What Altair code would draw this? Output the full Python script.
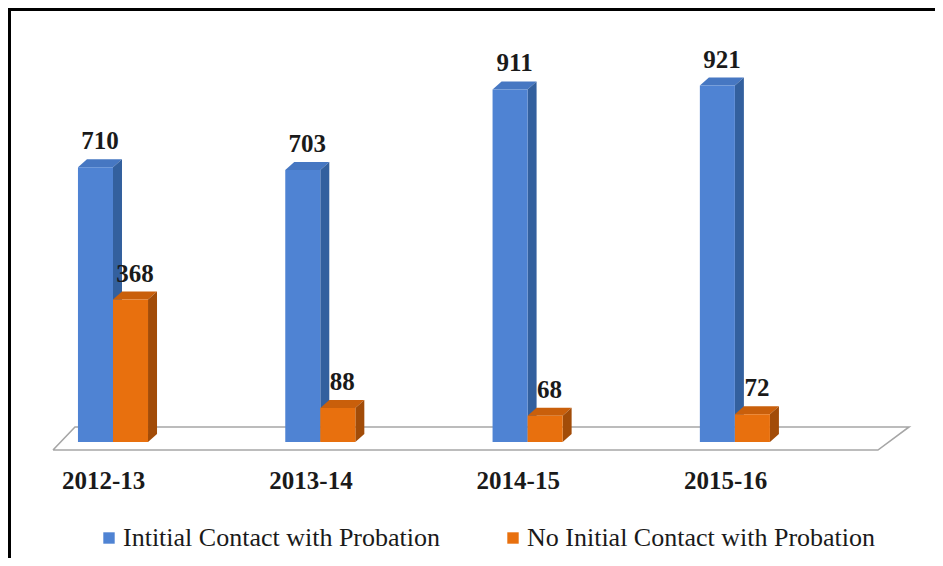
import altair as alt
import pandas as pd

# ---- data ----
years = ["2012-13", "2013-14", "2014-15", "2015-16"]
contact = [710, 703, 911, 921]
no_contact = [368, 88, 68, 72]
series_names = ["Intitial Contact with Probation", "No Initial Contact with Probation"]

# ---- styling / geometry parameters ----
FONT = "Liberation Serif"
TXT = "#1a1a1a"
COLORS = {
    series_names[0]: {"front": "#4F83D3", "side": "#33609E", "top": "#4677C2"},
    series_names[1]: {"front": "#E8700E", "side": "#A24C08", "top": "#C95F0B"},
}
W = 0.169      # bar width (category units)
DX = 0.0434    # 3-D depth, horizontal (category units)
DY = 20.7      # 3-D depth, vertical (value units)
PW, PH = 927, 550

xs = alt.Scale(domain=[-0.5065, 3.9653], nice=False, zero=False)
ys = alt.Scale(domain=[-299.7, 1121.4], nice=False, zero=False)

bars, sides, tops = [], [], []
for i, yr in enumerate(years):
    for s, (name, vals) in enumerate(zip(series_names, [contact, no_contact])):
        v = vals[i]
        x0 = i - W + s * W
        x1 = x0 + W
        key = f"{yr}|{s}"
        bars.append(dict(year=yr, series=name, value=v, x0=x0, x1=x1,
                         xm=(x0 + x1) / 2 + DX / 2, zero=0))
        for k in (0, 1):
            sides.append(dict(key=key, series=name, x=x1 + k * DX,
                              ytop=v + k * DY, ybot=k * DY))
            tops.append(dict(key=key, series=name, yy=v + k * DY,
                             xa=x0 + k * DX, xb=x1 + k * DX))

bars_df = pd.DataFrame(bars)
sides_df = pd.DataFrame(sides)
tops_df = pd.DataFrame(tops)

# floor (3-D base plane) outline
FL, FR, FDX, FFRONT, FBACK = -0.2894, 3.690, 0.150, -20.7, 38.8
floor_df = pd.DataFrame(dict(
    ord=[0, 1, 2, 3, 4],
    fx=[FL, FR, FR + FDX, FL + 0.106, FL],
    fy=[FFRONT, FFRONT, FBACK, FBACK, FFRONT],
))

cat_df = pd.DataFrame(dict(year=years, xc=[i - 0.045 for i in range(len(years))],
                           ylab=[-121] * len(years)))

floor = alt.Chart(floor_df).mark_line(color="#A6A6A6", strokeWidth=1.6).encode(
    x=alt.X("fx:Q", scale=xs, axis=None),
    y=alt.Y("fy:Q", scale=ys, axis=None),
    order="ord:Q",
)

color_enc = alt.Color(
    "series:N",
    scale=alt.Scale(domain=series_names,
                    range=[COLORS[n]["front"] for n in series_names]),
    legend=alt.Legend(
        title=None, orient="none", legendX=88, legendY=517, direction="horizontal",
        symbolType="square", symbolSize=130, symbolStrokeWidth=0,
        labelFont=FONT, labelFontSize=26, labelColor=TXT, labelLimit=600,
        labelOffset=1, columnPadding=59, padding=0,
    ),
)

layers = [floor]
for name in series_names:
    c = COLORS[name]
    top = alt.Chart(tops_df).transform_filter(alt.datum.series == name).mark_area(
        orient="horizontal", color=c["top"]).encode(
        y=alt.Y("yy:Q", scale=ys, axis=None),
        x=alt.X("xa:Q", scale=xs, axis=None),
        x2="xb:Q",
        detail="key:N",
    )
    side = alt.Chart(sides_df).transform_filter(alt.datum.series == name).mark_area(
        orient="vertical", color=c["side"]).encode(
        x=alt.X("x:Q", scale=xs, axis=None),
        y=alt.Y("ytop:Q", scale=ys, axis=None),
        y2="ybot:Q",
        detail="key:N",
    )
    front = alt.Chart(bars_df).transform_filter(alt.datum.series == name).mark_rect().encode(
        x=alt.X("x0:Q", scale=xs, axis=None),
        x2="x1:Q",
        y=alt.Y("value:Q", scale=ys, axis=None),
        y2="zero:Q",
        color=color_enc,
    )
    layers += [top, side, front]

values = alt.Chart(bars_df).mark_text(
    font=FONT, fontSize=25, fontWeight="bold", baseline="alphabetic", dy=-18, color=TXT
).encode(
    x=alt.X("xm:Q", scale=xs, axis=None),
    y=alt.Y("value:Q", scale=ys, axis=None),
    text="value:Q",
)

cats = alt.Chart(cat_df).mark_text(
    font=FONT, fontSize=25, fontWeight="bold", baseline="alphabetic", color=TXT
).encode(
    x=alt.X("xc:Q", scale=xs, axis=None),
    y=alt.Y("ylab:Q", scale=ys, axis=None),
    text="year:N",
)

border_top = alt.Chart(bars_df).mark_rule(color="black", strokeWidth=3).encode(
    x=alt.value(0), x2=alt.value(PW), y=alt.value(1.5))
border_left = alt.Chart(bars_df).mark_rule(color="black", strokeWidth=3).encode(
    x=alt.value(1.5), y=alt.value(0), y2=alt.value(PH))

chart = alt.layer(*layers, values, cats, border_top, border_left).properties(
    width=PW, height=PH, padding=0, background="white",
    autosize=alt.AutoSizeParams(type="none"),
).configure_view(stroke=None).configure_legend(
    labelFont=FONT, labelFontSize=26, labelColor=TXT
).configure(font=FONT)

chart.save("out.html", embed_options={"renderer": "svg", "actions": False})
